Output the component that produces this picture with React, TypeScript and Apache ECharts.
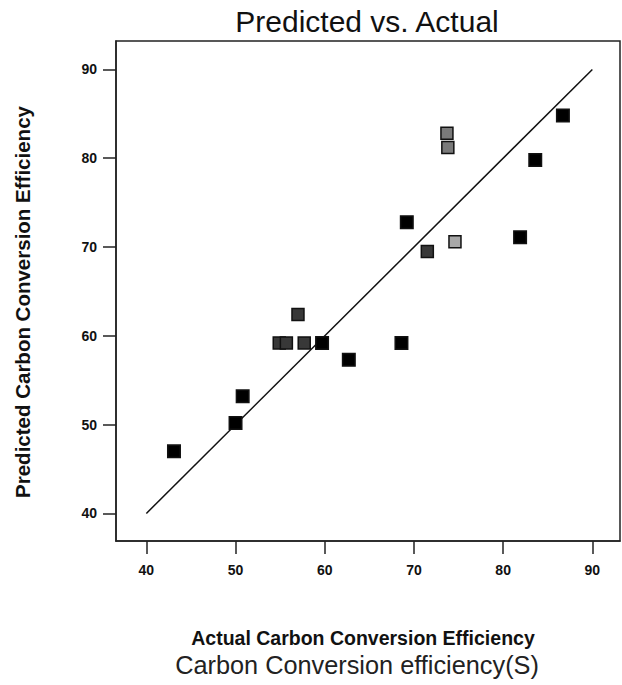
import React, { useEffect, useRef } from "react";
import * as echarts from "echarts";

// Actual (x) vs Predicted (y) values, grouped by marker shade
const blackActual = [43.1, 50.0, 50.8, 59.7, 62.7, 68.6, 69.2, 81.9, 83.6, 86.7];
const blackPredicted = [47.0, 50.2, 53.2, 59.2, 57.3, 59.2, 72.8, 71.1, 79.8, 84.8];
const darkActual = [54.9, 55.7, 57.0, 57.7, 71.5];
const darkPredicted = [59.2, 59.2, 62.4, 59.2, 69.5];
const grayActual = [73.7, 73.8];
const grayPredicted = [82.8, 81.2];
const lightActual = [74.6];
const lightPredicted = [70.6];
const diagonal = [40, 90];
const tickValues = [40, 50, 60, 70, 80, 90];

const titleText = "Predicted vs. Actual";
const xName = "Actual Carbon Conversion Efficiency";
const yName = "Predicted Carbon Conversion Efficiency";
const caption = "Carbon Conversion efficiency(S)";

const pairs = (xs: number[], ys: number[]) => xs.map((x, i) => [x, ys[i]]);

export default function App() {
  const ref = useRef<HTMLDivElement>(null);
  useEffect(() => {
    if (!ref.current) return;
    const chart = echarts.init(ref.current, null, { renderer: "svg" });
    const font = "'Liberation Sans', Arial, sans-serif";
    const axisCommon = {
      type: "value" as const,
      splitLine: { show: false },
      axisLine: { show: true, lineStyle: { color: "#222", width: 1.5 } },
      axisTick: {
        show: true,
        inside: false,
        length: 13,
        lineStyle: { color: "#222", width: 1.5 },
        customValues: tickValues,
      },
      axisLabel: {
        color: "#111",
        fontFamily: font,
        fontWeight: "bold" as const,
        fontSize: 14,
        customValues: tickValues,
      },
      nameLocation: "middle" as const,
      nameTextStyle: {
        color: "#111",
        fontFamily: font,
        fontWeight: "bold" as const,
        fontSize: 19.5,
      },
    };
    const marker = (fill: string) => ({
      color: fill,
      opacity: 1,
      borderColor: "#111",
      borderWidth: 1.5,
    });
    chart.setOption({
      animation: false,
      backgroundColor: "#fff",
      grid: {
        left: 116,
        top: 41,
        right: 2,
        bottom: 144,
        show: true,
        borderColor: "#222",
        borderWidth: 1.5,
        backgroundColor: "transparent",
      },
      xAxis: {
        ...axisCommon,
        min: 36.6,
        max: 93.1,
        name: xName,
        nameGap: 87,
        nameTextStyle: { ...axisCommon.nameTextStyle, padding: [0, 10, 0, 0] },
        axisLabel: { ...axisCommon.axisLabel, margin: 22 },
      },
      yAxis: {
        ...axisCommon,
        min: 36.9,
        max: 93.2,
        name: yName,
        nameGap: 83,
        nameRotate: 90,
        nameTextStyle: { ...axisCommon.nameTextStyle, fontSize: 20.5, padding: [0, 22, 0, 0] },
        axisLabel: { ...axisCommon.axisLabel, margin: 19 },
      },
      graphic: [
        {
          type: "text",
          x: 367,
          y: 21,
          style: {
            text: titleText,
            fontFamily: font,
            fontSize: 30,
            fill: "#111",
            textAlign: "center",
            textVerticalAlign: "middle",
          },
        },
        {
          type: "text",
          x: 357,
          y: 665,
          style: {
            text: caption,
            fontFamily: font,
            fontSize: 25.3,
            fill: "#222",
            textAlign: "center",
            textVerticalAlign: "middle",
          },
        },
      ],
      series: [
        {
          type: "line",
          data: pairs(diagonal, diagonal),
          symbol: "none",
          lineStyle: { color: "#111", width: 1.5 },
          z: 1,
        },
        {
          type: "scatter",
          symbol: "rect",
          symbolSize: 12.5,
          data: pairs(blackActual, blackPredicted),
          itemStyle: marker("#000"),
          z: 3,
        },
        {
          type: "scatter",
          symbol: "rect",
          symbolSize: 12,
          data: pairs(darkActual, darkPredicted),
          itemStyle: marker("#383838"),
          z: 3,
        },
        {
          type: "scatter",
          symbol: "rect",
          symbolSize: 12,
          data: pairs(grayActual, grayPredicted),
          itemStyle: marker("#7a7a7a"),
          z: 3,
        },
        {
          type: "scatter",
          symbol: "rect",
          symbolSize: 12,
          data: pairs(lightActual, lightPredicted),
          itemStyle: marker("#a8a8a8"),
          z: 3,
        },
      ],
    });
    return () => chart.dispose();
  }, []);
  return (
    <div
      ref={ref}
      style={{ position: "fixed", left: 0, top: 0, width: 622, height: 685, background: "#fff" }}
    />
  );
}
